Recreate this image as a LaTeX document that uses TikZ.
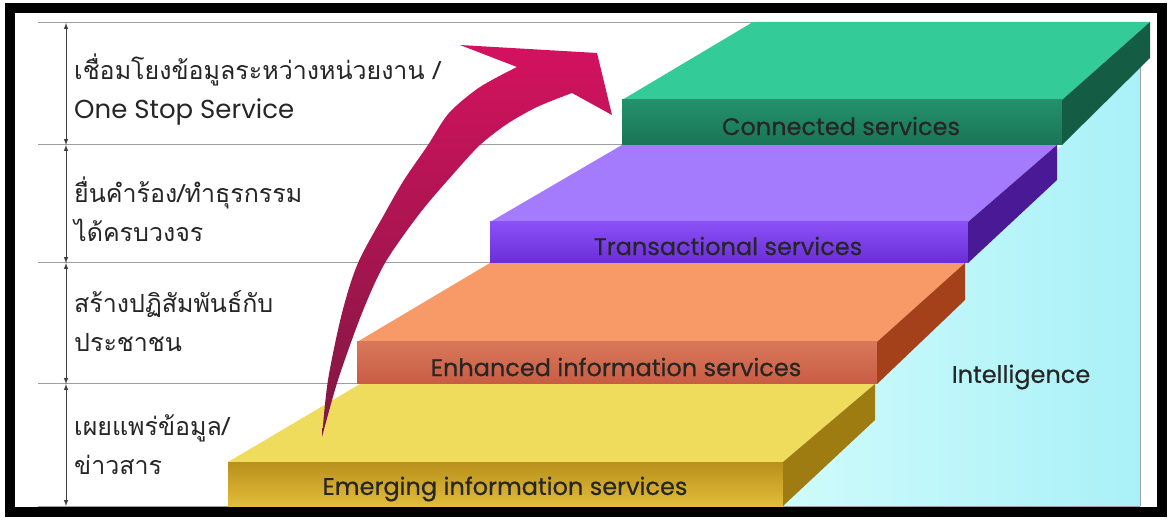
\documentclass[tikz,border=0pt]{standalone}
\usepackage{fontspec}
\setmainfont{Poppins}
\newfontfamily\labelfont{Poppins}[FakeBold=0.5]
\newfontfamily\thaifont[Script=Thai]{Loma}
\usetikzlibrary{positioning}

% slab colours: top face, front face (light/dark), side face
\definecolor{greentop}{HTML}{33CC99}
\definecolor{greenfrontA}{HTML}{23916C}
\definecolor{greenfrontB}{HTML}{1A7456}
\definecolor{greenside}{HTML}{145C43}
\definecolor{purpletop}{HTML}{A57BFD}
\definecolor{purplefrontA}{HTML}{8A50F5}
\definecolor{purplefrontB}{HTML}{6A2ED8}
\definecolor{purpleside}{HTML}{4A1A96}
\definecolor{orangetop}{HTML}{F79A68}
\definecolor{orangefrontA}{HTML}{D8785A}
\definecolor{orangefrontB}{HTML}{C85C44}
\definecolor{orangeside}{HTML}{A4401A}
\definecolor{yellowtop}{HTML}{F0DC5C}
\definecolor{yellowfrontA}{HTML}{B8901C}
\definecolor{yellowfrontB}{HTML}{E2BC3A}
\definecolor{yellowside}{HTML}{9E7C12}
\definecolor{skyA}{HTML}{CFFBFB}
\definecolor{skyB}{HTML}{A9F1F8}
\definecolor{arrowtop}{HTML}{D4125F}
\definecolor{arrowbottom}{HTML}{7E1842}

\begin{document}
\begin{tikzpicture}[x=1pt,y=-1pt,
  level line/.style={draw=gray!75,line width=1pt},
  span arrow/.style={latex-latex,line width=1pt,draw=black!75},
  step label/.style={font=\labelfont\fontsize{24}{27}\selectfont,text=black!85},
  level text/.style={anchor=west,align=left,inner sep=0pt,
    font=\thaifont\fontsize{25}{39}\selectfont,text=black!85}]

  \fill[white] (0,0) rectangle (1171,521);
  \useasboundingbox (0,0) rectangle (1171,521);

  % level marks on the left
  \coordinate (l0) at (66,23);
  \coordinate (l1) at (66,145);
  \coordinate (l2) at (66,263);
  \coordinate (l3) at (66,384);
  \coordinate (l4) at (66,506);

  % light blue area behind the stairs
  \shade[left color=skyA, right color=skyB]
    (783,506) -- (1140,506) -- (1140,64) -- (1062,145) -- (783,420) -- cycle;
  \draw[level line, line width=0.8pt] (1140,60) -- (1140,506);

  \draw[level line] (38,23) -- (753,23);
  \draw[level line] (38,145) -- (622,145);
  \draw[level line] (38,263) -- (490,263);
  \draw[level line] (38,384) -- (357,384);
  \draw[level line] (38,506) -- (1140,506);

  \draw[span arrow] (l0) -- (l1);
  \draw[span arrow] (l1) -- (l2);
  \draw[span arrow] (l2) -- (l3);
  \draw[span arrow] (l3) -- (l4);

  % yellow slab
  \fill[yellowtop] (228,462) -- (360,384) -- (875,384) -- (783,462) -- cycle;
  \shade[top color=yellowfrontA, bottom color=yellowfrontB] (228,462) rectangle (783,506);
  \fill[yellowside] (783,462) -- (875,384) -- (875,420) -- (783,506) -- cycle;

  % orange slab
  \fill[orangetop] (357,342) -- (490,263) -- (965,263) -- (877,342) -- cycle;
  \shade[top color=orangefrontA, bottom color=orangefrontB] (357,342) rectangle (877,384);
  \fill[orangeside] (877,342) -- (965,263) -- (965,300) -- (877,384) -- cycle;

  % purple slab
  \fill[purpletop] (490,222) -- (622,145) -- (1057,145) -- (968,222) -- cycle;
  \shade[top color=purplefrontA, bottom color=purplefrontB] (490,222) rectangle (968,263);
  \fill[purpleside] (968,222) -- (1057,145) -- (1057,180) -- (968,263) -- cycle;

  % green slab
  \fill[greentop] (622,100) -- (753,22) -- (1150,22) -- (1062,100) -- cycle;
  \shade[top color=greenfrontA, bottom color=greenfrontB] (622,100) rectangle (1062,145);
  \fill[greenside] (1062,100) -- (1150,22) -- (1150,58) -- (1062,145) -- cycle;

  \node[step label] (emerging) at (505,489) {Emerging information services};
  \node[step label] (enhanced) at (616,367) {Enhanced information services};
  \node[step label] (transact) at (728,246) {Transactional services};
  \node[step label] (connect) at (841,126) {Connected services};
  \node[step label] (intel) at (1021,377) {Intelligence};

  % big rising arrow
  \shade[top color=arrowtop, bottom color=arrowbottom]
    plot[smooth] coordinates {(322,437) (328,380) (342,313) (358,263) (385,213) (404,180) (428,145) (449,113) (480,87) (517,67)}
    -- (460,45) -- (597,53) -- (612,115) -- (572,93)
    -- plot[smooth] coordinates {(572,93) (537,107) (507,124) (480,145) (455,172) (420,213) (385,263) (362,313) (338,380) (322,437)}
    -- cycle;

  % texts for each level
  \node[level text] (t1) at (74,90) {เชื่อมโยงข้อมูลระหว่างหน่วยงาน /\\{\rmfamily\fontsize{26}{39}\selectfont One Stop Service}};
  \node[level text] (t2) at (74,209) {ยื่นคำร้อง/ทำธุรกรรม\\ได้ครบวงจร};
  \node[level text] (t3) at (74,321) {สร้างปฏิสัมพันธ์กับ\\ประชาชน};
  \node[level text] (t4) at (74,445) {เผยแพร่ข้อมูล/\\ข่าวสาร};

  % outer frame
  \draw[line width=10pt] (10,8) rectangle (1162,511.5);
\end{tikzpicture}
\end{document}
